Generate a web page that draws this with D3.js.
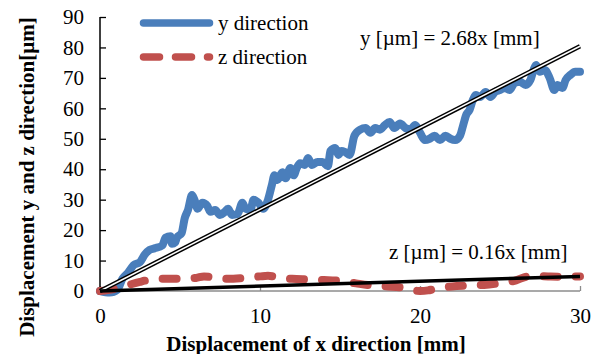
<!DOCTYPE html>
<html>
<head>
<meta charset="utf-8">
<script src="https://cdn.jsdelivr.net/npm/d3@7"></script>
<style>
  body { margin:0; background:#fff; }
  svg text { font-family: "Liberation Serif", "Times New Roman", serif; }
</style>
</head>
<body>
<svg width="603" height="354"></svg>
<script>
// y direction displacement [um] vs x [mm]
const yX = [0,0.6,1.1,1.4,1.75,2.1,2.5,2.8,3.1,3.4,3.9,4.1,4.4,4.5,4.7,4.8,5.1,5.3,5.5,5.75,5.9,6.1,6.4,6.7,6.9,7.2,7.5,7.8,8,8.25,8.6,8.9,9.1,9.4,9.6,9.9,10.2,10.5,10.75,10.9,11.1,11.4,11.6,11.9,12.1,12.3,12.5,12.8,13,13.25,13.6,13.9,14.25,14.4,14.7,14.9,15.1,15.3,15.6,15.9,16.25,16.6,16.9,17.2,17.5,17.8,18.1,18.4,18.75,19.1,19.4,19.7,20,20.3,20.6,20.9,21.25,21.6,21.9,22.2,22.5,22.7,22.9,23.1,23.3,23.5,23.75,24.1,24.4,24.7,25,25.3,25.6,25.9,26.25,26.6,26.9,27.1,27.25,27.5,27.8,28.1,28.4,28.6,28.9,29.1,29.4,29.7,30];
const yVal = [0,-0.5,0.5,4,6,8.5,9.5,12,13.5,14,15,17.5,18,15.5,16,17.5,19,24,26.6,31.5,30,27,29,28,26,26.6,25,26,27,25,25.3,29,27,26.6,30,29,27,30,35,38,36.5,39,37,40.4,38,40.4,42,41.4,43.7,41.4,42.4,42.4,41,46,47,44.7,46,45.7,44.7,51,53,53.5,52,53.5,53,54.5,55.5,53.5,55,53.5,53,54.5,52,49.6,50,51,49.6,51,50,49.6,51,54.5,58,59.5,62.7,64.4,63.7,65.4,63.7,65.4,66,66.7,66,68.3,68.7,67.7,69.3,72.6,74.2,72,72.6,70,66,67.7,66.7,69.3,71,72,72];

// z direction displacement [um]
const zX = [0,0.5,1,1.5,2,2.5,3,3.5,4,5,6,6.5,7,8,9,10,10.5,11,12,13,14,15,16,17,18,19,19.5,20,20.5,21,22,23,24,25,26,26.5,27,28,29,30];
const zVal = [0,0.3,0.8,1.5,2.3,3,3.6,3.9,4,4,4.3,4.8,4.5,4,4.3,4.8,5,4.6,4,3.8,3.6,3.3,2.5,1.8,1.5,1,0.3,0,0.2,0.8,1.5,1.8,2,2.6,3.5,4.5,5,4.8,4.7,4.8];

// linear fits through origin
const slopeY = 2.68, slopeZ = 0.16;
const xTicks = [0,10,20,30];
const yTicks = [0,10,20,30,40,50,60,70,80,90];

const serif = '"Liberation Serif", "Times New Roman", serif';

const svg = d3.select('svg');
const margin = { top:17, right:23, bottom:63, left:100 };
const innerWidth = 603 - margin.left - margin.right;
const innerHeight = 354 - margin.top - margin.bottom;

const xscale = d3.scaleLinear().domain([0,30]).range([0,innerWidth]);
const yscale = d3.scaleLinear().domain([0,90]).range([innerHeight,0]);

const g = svg.append('g')
    .attr('transform',`translate(${margin.left},${margin.top})`);

// x axis (gray, ticks pointing up)
const xAxisG = g.append('g')
    .attr('transform',`translate(0,${innerHeight})`)
    .call(d3.axisBottom(xscale).tickValues(xTicks).tickSize(-5).tickPadding(17));
xAxisG.attr('font-family',serif).attr('font-size',21);
xAxisG.selectAll('.domain').attr('stroke','#8c8c8c').attr('stroke-width',1.3)
    .attr('d',`M0,0H${innerWidth}`);
xAxisG.selectAll('.tick line').attr('stroke','#8c8c8c').attr('stroke-width',1.3);
xAxisG.selectAll('.tick text').attr('fill','#000');

// y axis (black, ticks inside)
const yAxisG = g.append('g')
    .call(d3.axisLeft(yscale).tickValues(yTicks).tickSize(-6).tickPadding(16));
yAxisG.attr('font-family',serif).attr('font-size',21);
yAxisG.selectAll('.domain').attr('stroke','#000').attr('stroke-width',1.5)
    .attr('d',`M0,0V${innerHeight}`);
yAxisG.selectAll('.tick line').attr('stroke','#000').attr('stroke-width',1.3);
yAxisG.selectAll('.tick text').attr('fill','#000');

const yData = yX.map((x,i) => [x, yVal[i]]);
const zData = zX.map((x,i) => [x, zVal[i]]);

const line = d3.line()
    .x(d => xscale(d[0]))
    .y(d => yscale(d[1]))
    .curve(d3.curveMonotoneX);

g.append('path').datum(yData)
    .attr('d',line)
    .attr('fill','none')
    .attr('stroke','#4a7ebb')
    .attr('stroke-width',8)
    .attr('stroke-linejoin','round')
    .attr('stroke-linecap','round');

g.append('path').datum(zData)
    .attr('d',line)
    .attr('fill','none')
    .attr('stroke','#c0504d')
    .attr('stroke-width',8)
    .attr('stroke-dasharray','14,18')
    .attr('stroke-linecap','round');

// trend lines
const trendY = [[0,0],[30,30*slopeY]];
const trendZ = [[0,0],[30,30*slopeZ]];
const straight = d3.line().x(d => xscale(d[0])).y(d => yscale(d[1]));

g.append('path').datum(trendY).attr('d',straight)
    .attr('stroke','#000').attr('stroke-width',4.5).attr('fill','none');
g.append('path').datum(trendY).attr('d',straight)
    .attr('stroke','#fff').attr('stroke-width',1.5).attr('fill','none');

g.append('path').datum(trendZ).attr('d',straight)
    .attr('stroke','#000').attr('stroke-width',3.5).attr('fill','none');

// equations
g.append('text').text('y [\u00b5m] = 2.68x [mm]')
    .attr('x',260).attr('y',28).attr('font-size',21).attr('font-family',serif);
g.append('text').text('z [\u00b5m] = 0.16x [mm]')
    .attr('x',289).attr('y',242).attr('font-size',21).attr('font-family',serif);

// legend
const legend = svg.append('g').attr('font-family',serif).attr('font-size',21);
legend.append('line')
    .attr('x1',143.5).attr('x2',209.5).attr('y1',23).attr('y2',23)
    .attr('stroke','#4a7ebb').attr('stroke-width',7.5).attr('stroke-linecap','round');
legend.append('text').text('y direction')
    .attr('x',218).attr('y',30);
legend.append('line')
    .attr('x1',143.5).attr('x2',209.5).attr('y1',57).attr('y2',57)
    .attr('stroke','#c0504d').attr('stroke-width',7.5).attr('stroke-linecap','round')
    .attr('stroke-dasharray','16,16');
legend.append('text').text('z direction')
    .attr('x',218).attr('y',64);

// axis labels
svg.append('text').text('Displacement of x direction [mm]')
    .attr('x',316).attr('y',351).attr('text-anchor','middle')
    .attr('font-family',serif)
    .attr('font-size',21).attr('font-weight','bold');
svg.append('text').text('Displacement y and z direction[\u00b5m]')
    .attr('transform','translate(34,177) rotate(-90)')
    .attr('text-anchor','middle')
    .attr('font-family',serif)
    .attr('font-size',21).attr('font-weight','bold');
</script>
</body>
</html>
